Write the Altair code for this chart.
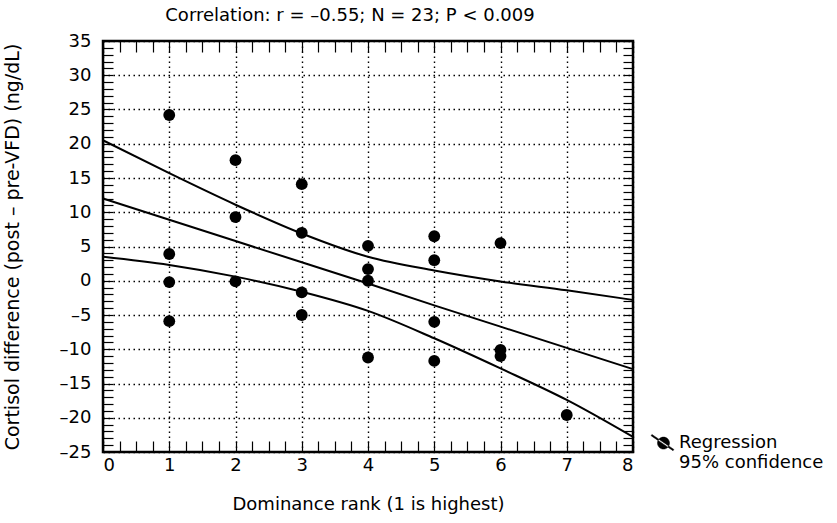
import altair as alt
import pandas as pd

# ---- data ----
ranks = [1, 1, 1, 1, 2, 2, 2, 3, 3, 3, 3, 4, 4, 4, 4, 5, 5, 5, 5, 6, 6, 6, 7]
cortisol = [24.2, 3.9, -0.2, -5.9, 17.6, 9.3, -0.1, 14.1, 7.0, -1.7, -5.0,
            5.1, 1.7, 0.0, -11.2, 6.5, 3.0, -6.0, -11.7, 5.5, -10.1, -11.0, -19.6]

curve_rank = [0, 1, 2, 3, 4, 5, 6, 7, 8]
fit_line = [12.0, 8.9, 5.8, 2.7, -0.4, -3.6, -6.7, -9.8, -12.9]
upper_ci = [20.5, 15.7, 11.1, 6.9, 3.5, 1.5, -0.1, -1.4, -2.8]
lower_ci = [3.5, 2.3, 0.6, -1.6, -4.4, -8.4, -12.8, -17.4, -22.8]

x_major = [0, 1, 2, 3, 4, 5, 6, 7, 8]
x_minor = [i / 4 for i in range(0, 33)]
y_major = [-25, -20, -15, -10, -5, 0, 5, 10, 15, 20, 25, 30, 35]
y_minor = list(range(-25, 36))

title_text = "Correlation: r = –0.55; N = 23; P < 0.009"
x_title = "Dominance rank (1 is highest)"
y_title = "Cortisol difference (post – pre-VFD) (ng/dL)"
legend_lines = ["Regression", "95% confidence"]

FONT = "DejaVu Sans"

pts = pd.DataFrame({"rank": ranks, "cortisol": cortisol, "series": legend_lines[0]})
bands = pd.DataFrame({
    "rank": curve_rank * 2,
    "value": upper_ci + lower_ci,
    "curve": ["upper"] * len(curve_rank) + ["lower"] * len(curve_rank),
})
fit = pd.DataFrame({"rank": curve_rank, "value": fit_line})

xs = alt.Scale(domain=[0, 8], nice=False, zero=False)
ys = alt.Scale(domain=[-25, 35], nice=False, zero=False)

y_label_expr = "datum.value < 0 ? '–' + abs(datum.value) : '' + datum.value"

# legend symbol: dot with a slanted line through it (unit square -1..1)
symbol_path = ("M0.5,0.8A0.5,0.5,0,1,1,-0.5,0.8A0.5,0.5,0,1,1,0.5,0.8Z "
               "M-1.034,0.18L0.796,1.43L0.864,1.33L-0.966,0.08Z")

points = alt.Chart(pts).mark_circle(size=140, opacity=1).encode(
    x=alt.X("rank:Q", scale=xs, axis=alt.Axis(
        orient="bottom", values=x_major, title=x_title, grid=True, ticks=False,
        domain=False, labelPadding=4, titlePadding=21, format="d",
        titleFontSize=18)),
    y=alt.Y("cortisol:Q", scale=ys, axis=alt.Axis(
        orient="left", values=y_major, title=y_title, grid=True, ticks=False,
        domain=False, labelPadding=12, titlePadding=37, labelExpr=y_label_expr,
        titleFontSize=19)),
    color=alt.Color("series:N", scale=alt.Scale(range=["black"]), legend=alt.Legend(
        title=None, orient="none", legendX=548, legendY=380, symbolType=symbol_path,
        symbolSize=576, symbolFillColor="black", symbolStrokeColor="black",
        symbolStrokeWidth=0.5, symbolOpacity=1,
        labelExpr="['Regression', '95% confidence']", labelBaseline="top",
        labelFontSize=18, labelFont=FONT, labelColor="black", labelOffset=3,
        padding=0, labelLimit=300)),
)

band_lines = alt.Chart(bands).mark_line(
    color="black", strokeWidth=2, interpolate="monotone").encode(
    x=alt.X("rank:Q", scale=xs, axis=alt.Axis(
        orient="bottom", values=x_minor, labels=False, title=None, grid=False,
        domain=False, ticks=True, tickSize=11, offset=-11)),
    y=alt.Y("value:Q", scale=ys, axis=alt.Axis(
        orient="left", values=y_minor, labels=False, title=None, grid=False,
        domain=False, ticks=True, tickSize=10, offset=-10)),
    detail="curve:N",
)

fit_line_layer = alt.Chart(fit).mark_line(color="black", strokeWidth=2).encode(
    x=alt.X("rank:Q", scale=xs, axis=alt.Axis(
        orient="top", values=x_minor, labels=False, title=None, grid=False,
        domain=False, ticks=True, tickSize=11, offset=-11)),
    y=alt.Y("value:Q", scale=ys, axis=alt.Axis(
        orient="right", values=y_minor, labels=False, title=None, grid=False,
        domain=False, ticks=True, tickSize=10, offset=-10)),
)

chart = alt.layer(points, band_lines, fit_line_layer).resolve_axis(
    x="independent", y="independent"
).properties(
    width=530, height=411,
    background="white",
    autosize=alt.AutoSizeParams(type="none"),
    padding={"left": 103, "top": 41, "right": 204, "bottom": 71},
    title=alt.TitleParams(title_text, font=FONT, fontSize=18, fontWeight="normal",
                          color="black", anchor="middle", dx=-18, offset=7),
).configure_view(
    stroke="black", strokeWidth=2.5
).configure_axis(
    labelFont=FONT, labelFontSize=18, labelColor="black",
    titleFont=FONT, titleFontSize=18, titleFontWeight="normal", titleColor="black",
    gridColor="black", gridDash=[1.5, 3.5], gridWidth=1.4, gridOpacity=1,
    tickColor="black", tickWidth=1.2,
).configure_title(
    font=FONT, fontSize=18, fontWeight="normal", color="black"
)

chart.save("out.html", embed_options={"renderer": "svg", "actions": False})
